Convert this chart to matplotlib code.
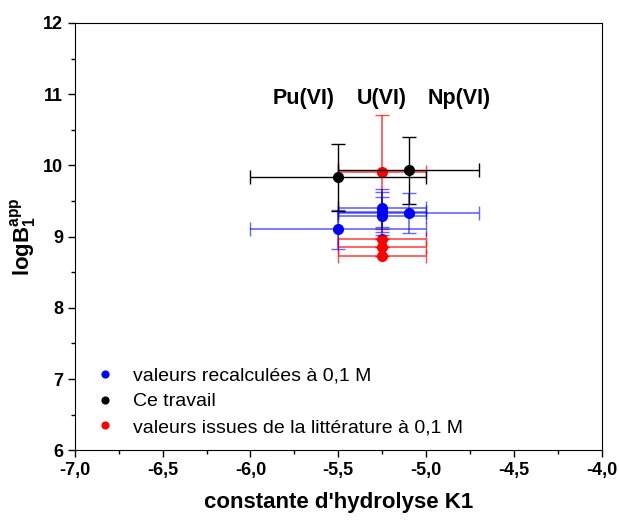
import matplotlib
matplotlib.use('Agg')
import matplotlib.pyplot as plt
from matplotlib.ticker import MultipleLocator, FuncFormatter

plt.rcParams['font.family'] = ['Liberation Sans', 'DejaVu Sans']
plt.rcParams['mathtext.fontset'] = 'custom'
plt.rcParams['mathtext.rm'] = 'Liberation Sans'
plt.rcParams['mathtext.bf'] = 'Liberation Sans:bold'

# valeurs recalculées à 0,1 M (bleu)
x_recal = [-5.5, -5.25, -5.25, -5.25, -5.1]
y_recal = [9.10, 9.40, 9.34, 9.29, 9.33]
xerr_recal = [0.5, 0.25, 0.25, 0.25, 0.4]
yerr_recal = [0.27, 0.27, 0.28, 0.27, 0.28]

# Ce travail (noir)
x_travail = [-5.5, -5.1]
y_travail = [9.83, 9.93]
xerr_travail = [0.5, 0.4]
yerr_travail = [0.47, 0.47]

# valeurs issues de la littérature (rouge)
x_litt = [-5.25, -5.25, -5.25, -5.25]
y_litt = [9.90, 8.96, 8.86, 8.73]
xerr_litt = [0.25, 0.25, 0.25, 0.25]
yerr_litt = [0.8, 0, 0, 0]

labels_ions = ['Pu(VI)', 'U(VI)', 'Np(VI)']
x_ions = [-5.70, -5.25, -4.81]
y_ions = 10.94

fig = plt.figure(figsize=(6.19, 5.2), dpi=100)
ax = fig.add_axes([0.121, 0.134, 0.851, 0.822])

ax.errorbar(x_litt, y_litt, xerr=xerr_litt, yerr=yerr_litt, fmt='o', color='red',
            ecolor=(1, 0, 0, 0.7), ms=7, capsize=5, elinewidth=1.2,
            label='valeurs issues de la littérature à 0,1 M', zorder=3)
ax.errorbar(x_recal, y_recal, xerr=xerr_recal, yerr=yerr_recal, fmt='o', color='blue',
            ecolor=(0, 0, 1, 0.6), ms=7, capsize=5, elinewidth=1.2,
            label='valeurs recalculées à 0,1 M', zorder=4)
ax.errorbar(x_travail, y_travail, xerr=xerr_travail, yerr=yerr_travail, fmt='o', color='black',
            ecolor='black', ms=7, capsize=5, elinewidth=1,
            label='Ce travail', zorder=5)

for lab, xi in zip(labels_ions, x_ions):
    ax.text(xi, y_ions, lab, ha='center', va='center', fontsize=15.5, fontweight='bold')

ax.set_xlim(-7, -4)
ax.set_ylim(6, 12)
ax.xaxis.set_major_locator(MultipleLocator(0.5))
ax.xaxis.set_minor_locator(MultipleLocator(0.25))
ax.yaxis.set_major_locator(MultipleLocator(1))
ax.yaxis.set_minor_locator(MultipleLocator(0.5))
ax.xaxis.set_major_formatter(FuncFormatter(lambda v, p: ('%.1f' % v).replace('.', ',')))
ax.tick_params(which='both', direction='out', top=False, right=False, labelsize=13)
ax.tick_params(which='major', length=5, width=1)
ax.tick_params(which='minor', length=3, width=1)
for lbl in ax.get_xticklabels() + ax.get_yticklabels():
    lbl.set_fontweight('bold')

ax.set_xlabel("constante d'hydrolyse K1", fontsize=16, fontweight='bold', labelpad=9)
ax.set_ylabel(r'$\mathbf{logB_1^{app}}$', fontsize=16, labelpad=3)

h, l = ax.get_legend_handles_labels()
order = [1, 2, 0]
leg = ax.legend([h[i][0] for i in order], [l[i] for i in order], loc='lower left',
                frameon=False, fontsize=14, markerscale=0.7, handlelength=1.0,
                handletextpad=0.94, bbox_to_anchor=(0.006, -0.008), labelspacing=0.42)

fig.savefig('out.png', dpi=100)
